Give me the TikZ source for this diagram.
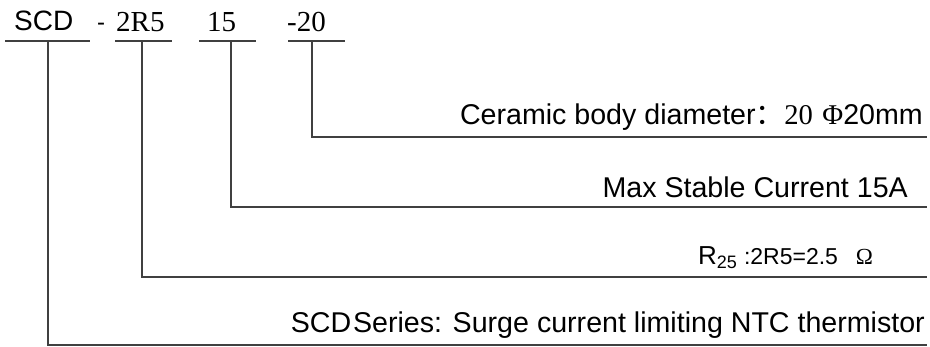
\documentclass[tikz,border=0pt]{standalone}
\usepackage{fontspec}
\setmainfont{Liberation Serif}
\setsansfont{Liberation Sans}
\newfontfamily\cjk{Noto Sans CJK SC}

\begin{document}
\begin{tikzpicture}[x=1pt,y=-1pt,
    lbl/.style={inner sep=0pt,font=\sffamily\fontsize{28.6}{30}\selectfont},
    code/.style={inner sep=0pt,font=\rmfamily\fontsize{29}{30}\selectfont},
    wire/.style={black!75,line width=2pt}]
      \useasboundingbox (0,0) rectangle (930,347);
      % model code on top
      \node[lbl,font=\sffamily\fontsize{28}{30}\selectfont,anchor=base west] (scd) at (14,31) {SCD};
      \node[lbl,font=\sffamily\fontsize{24}{30}\selectfont,anchor=base west] (sep) at (97,31) {-};
      \node[code,anchor=base west] (res) at (116,32) {2R5};
      \node[code,anchor=base west] (cur) at (207,32) {15};
      \node[code,anchor=base west] (dia) at (287,32) {-20};
      % underlines
      \draw[wire] (5,41) -- (90,41);
      \draw[wire] (115,41) -- (172,41);
      \draw[wire] (199,41) -- (256,41);
      \draw[wire] (288,41) -- (345,41);
      \coordinate (scdtap) at (48,41);
      \coordinate (restap) at (142,41);
      \coordinate (curtap) at (231,41);
      \coordinate (diatap) at (312,41);
      % descriptions
      \node[lbl,anchor=base east] (dialbl) at (923,125)
        {Ceramic body diameter{\cjk ：}{\rmfamily 20\,\,Φ}20mm};
      \node[lbl,anchor=base east] (curlbl) at (908,198) {Max Stable Current 15A};
      \node[lbl,anchor=base west] (reslbl) at (698,265)
        {{\fontsize{26}{26}\selectfont R}{\fontsize{18}{18}\selectfont\raisebox{-4pt}{25}}\hspace{7pt}{\fontsize{23}{20}\selectfont :2R5=2.5\hspace{18pt}{\rmfamily Ω}}};
      \node[lbl,anchor=base east] (scdlbl) at (925,333)
        {SCD\hspace{2pt}Series: Surge current limiting NTC thermistor};
      \coordinate (diaend) at (927,137);
      \coordinate (curend) at (927,207);
      \coordinate (resend) at (927,277);
      \coordinate (scdend) at (927,345);
      % leader lines
      \draw[wire] (diatap) |- (diaend);
      \draw[wire] (curtap) |- (curend);
      \draw[wire] (restap) |- (resend);
      \draw[wire] (scdtap) |- (scdend);
    \end{tikzpicture}
\end{document}
